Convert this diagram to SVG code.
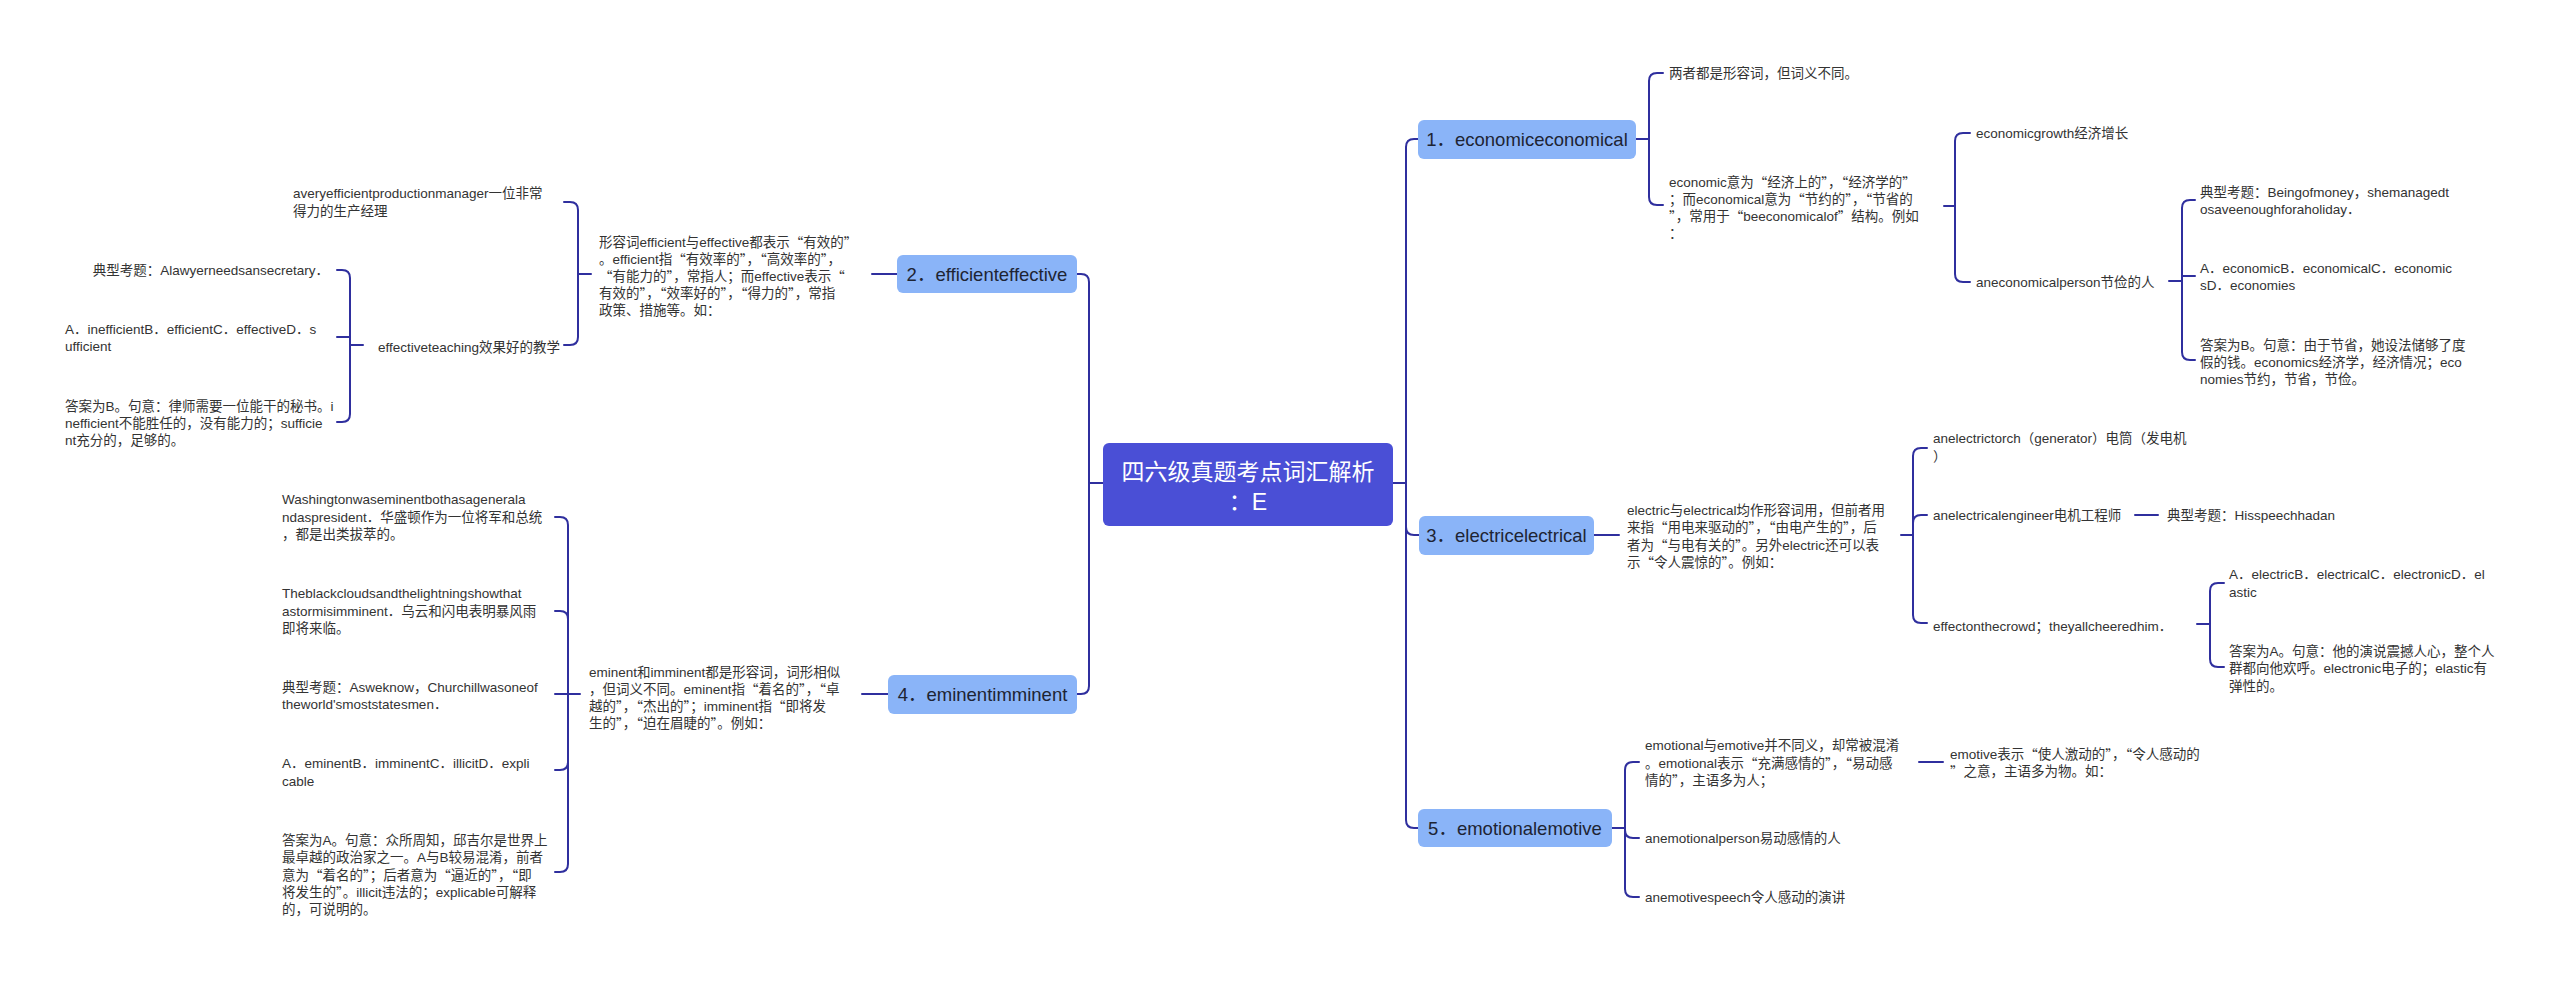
<svg xmlns="http://www.w3.org/2000/svg" width="2560" height="981" viewBox="0 0 2560 981">
<style>
.bg{fill:#ffffff}
.c{fill:none;stroke:#2f2f9e;stroke-width:2;stroke-linecap:round;stroke-linejoin:round}
.root{fill:#4a4fd6}
.rt{font-family:"Liberation Sans","Noto Sans CJK SC",sans-serif;font-size:23px;fill:#ffffff;text-anchor:middle;dominant-baseline:central}
.br{fill:#8ab4f8}
.bt{font-family:"Liberation Sans","Noto Sans CJK SC",sans-serif;font-size:18.5px;fill:#1e2433;text-anchor:middle;dominant-baseline:central}
.t{font-family:"Liberation Sans","Noto Sans CJK SC",sans-serif;font-size:13.5px;fill:#333333;dominant-baseline:central}
.q{font-family:"Noto Sans CJK SC",sans-serif}
.e{text-anchor:end}
</style>
<rect class="bg" x="0" y="0" width="2560" height="981"/>
<g id="connectors">
<path class="c" d="M1103,483 H1089"/>
<path class="c" d="M1089,483 V282 Q1089,274 1081,274 H1077"/>
<path class="c" d="M1089,483 V686 Q1089,694 1081,694 H1077"/>
<path class="c" d="M1393,483 H1406"/>
<path class="c" d="M1406,483 V147 Q1406,139 1414,139 H1418"/>
<path class="c" d="M1406,483 V527 Q1406,535 1414,535 H1419"/>
<path class="c" d="M1406,483 V820 Q1406,828 1414,828 H1418"/>
<path class="c" d="M1636,139 H1649"/>
<path class="c" d="M1649,139 V81 Q1649,73 1657,73 H1663"/>
<path class="c" d="M1649,139 V197 Q1649,205 1657,205 H1663"/>
<path class="c" d="M1944,206 H1955"/>
<path class="c" d="M1955,206 V141 Q1955,133 1963,133 H1970"/>
<path class="c" d="M1955,206 V274 Q1955,282 1963,282 H1970"/>
<path class="c" d="M2169,281 H2182"/>
<path class="c" d="M2182,281 V208 Q2182,200 2190,200 H2195"/>
<path class="c" d="M2182,276 H2195"/>
<path class="c" d="M2182,281 V352 Q2182,360 2190,360 H2195"/>
<path class="c" d="M1594,535 H1619"/>
<path class="c" d="M1901,535 H1913"/>
<path class="c" d="M1913,535 V456 Q1913,448 1921,448 H1927"/>
<path class="c" d="M1913,535 V523 Q1913,515 1921,515 H1927"/>
<path class="c" d="M1913,535 V615 Q1913,623 1921,623 H1927"/>
<path class="c" d="M2135,515 H2158"/>
<path class="c" d="M2197,624 H2210"/>
<path class="c" d="M2210,624 V591 Q2210,583 2218,583 H2224"/>
<path class="c" d="M2210,624 V659 Q2210,667 2218,667 H2224"/>
<path class="c" d="M1612,828 H1625"/>
<path class="c" d="M1625,828 V770 Q1625,762 1633,762 H1639"/>
<path class="c" d="M1625,828 V830 Q1625,838 1633,838 H1639"/>
<path class="c" d="M1625,828 V889 Q1625,897 1633,897 H1639"/>
<path class="c" d="M1919,762 H1943"/>
<path class="c" d="M897,274 H872"/>
<path class="c" d="M591,274 H578"/>
<path class="c" d="M578,274 V210 Q578,202 570,202 H564"/>
<path class="c" d="M578,274 V337 Q578,345 570,345 H564"/>
<path class="c" d="M363,345 H350"/>
<path class="c" d="M350,345 V278 Q350,270 342,270 H337"/>
<path class="c" d="M350,337 H337"/>
<path class="c" d="M350,345 V414 Q350,422 342,422 H337"/>
<path class="c" d="M888,694 H862"/>
<path class="c" d="M580,694 H568"/>
<path class="c" d="M568,694 V525 Q568,517 560,517 H555"/>
<path class="c" d="M568,694 V619 Q568,611 560,611 H555"/>
<path class="c" d="M568,694 H555"/>
<path class="c" d="M568,694 V762 Q568,770 560,770 H555"/>
<path class="c" d="M568,694 V864 Q568,872 560,872 H555"/>
</g>
<g id="root">
<rect class="root" x="1103" y="443" width="290" height="83" rx="6"/>
<text class="rt" x="1248" y="472">四六级真题考点词汇解析</text>
<text class="rt" x="1248" y="502">：E</text>
</g>
<g id="b1">
<rect class="br" x="1418" y="120" width="218" height="39" rx="6"/>
<text class="bt" x="1527" y="139.5">1．economiceconomical</text>
</g>
<g id="b1-1"><text class="t" x="1669" y="73">两者都是形容词，但词义不同。</text></g>
<g id="b1-2"><text class="t">
<tspan x="1669" y="182">economic意为<tspan class="q">“</tspan>经济上的<tspan class="q">”</tspan>，<tspan class="q">“</tspan>经济学的<tspan class="q">”</tspan></tspan>
<tspan x="1669" y="199">；而economical意为<tspan class="q">“</tspan>节约的<tspan class="q">”</tspan>，<tspan class="q">“</tspan>节省的</tspan>
<tspan x="1669" y="216"><tspan class="q">”</tspan>，常用于<tspan class="q">“</tspan>beeconomicalof<tspan class="q">”</tspan>结构。例如</tspan>
<tspan x="1669" y="233">：</tspan>
</text></g>
<g id="b1-2-1"><text class="t" x="1976" y="133">economicgrowth经济增长</text></g>
<g id="b1-2-2"><text class="t" x="1976" y="282">aneconomicalperson节俭的人</text></g>
<g id="b1-2-2-1"><text class="t">
<tspan x="2200" y="192">典型考题：Beingofmoney，shemanagedt</tspan>
<tspan x="2200" y="209">osaveenoughforaholiday．</tspan>
</text></g>
<g id="b1-2-2-2"><text class="t">
<tspan x="2200" y="268">A．economicB．economicalC．economic</tspan>
<tspan x="2200" y="285">sD．economies</tspan>
</text></g>
<g id="b1-2-2-3"><text class="t">
<tspan x="2200" y="345">答案为B。句意：由于节省，她设法储够了度</tspan>
<tspan x="2200" y="362">假的钱。economics经济学，经济情况；eco</tspan>
<tspan x="2200" y="379">nomies节约，节省，节俭。</tspan>
</text></g>
<g id="b2">
<rect class="br" x="897" y="255" width="180" height="38" rx="6"/>
<text class="bt" x="987" y="274">2．efficienteffective</text>
</g>
<g id="b2-1"><text class="t">
<tspan x="599" y="241.5">形容词efficient与effective都表示<tspan class="q">“</tspan>有效的<tspan class="q">”</tspan></tspan>
<tspan x="599" y="258.5">。efficient指<tspan class="q">“</tspan>有效率的<tspan class="q">”</tspan>，<tspan class="q">“</tspan>高效率的<tspan class="q">”</tspan>，</tspan>
<tspan x="599" y="275.5"><tspan class="q">“</tspan>有能力的<tspan class="q">”</tspan>，常指人；而effective表示<tspan class="q">“</tspan></tspan>
<tspan x="599" y="292.5">有效的<tspan class="q">”</tspan>，<tspan class="q">“</tspan>效率好的<tspan class="q">”</tspan>，<tspan class="q">“</tspan>得力的<tspan class="q">”</tspan>，常指</tspan>
<tspan x="599" y="309.5">政策、措施等。如：</tspan>
</text></g>
<g id="b2-1-1"><text class="t">
<tspan x="293" y="193">averyefficientproductionmanager一位非常</tspan>
<tspan x="293" y="211">得力的生产经理</tspan>
</text></g>
<g id="b2-1-2"><text class="t e" x="560" y="347">effectiveteaching效果好的教学</text></g>
<g id="b2-1-2-1"><text class="t e" x="329" y="270">典型考题：Alawyerneedsansecretary．</text></g>
<g id="b2-1-2-2"><text class="t">
<tspan x="65" y="329">A．inefficientB．efficientC．effectiveD．s</tspan>
<tspan x="65" y="346">ufficient</tspan>
</text></g>
<g id="b2-1-2-3"><text class="t">
<tspan x="65" y="406">答案为B。句意：律师需要一位能干的秘书。i</tspan>
<tspan x="65" y="423">nefficient不能胜任的，没有能力的；sufficie</tspan>
<tspan x="65" y="440">nt充分的，足够的。</tspan>
</text></g>
<g id="b3">
<rect class="br" x="1419" y="516" width="175" height="39" rx="6"/>
<text class="bt" x="1506.5" y="535.5">3．electricelectrical</text>
</g>
<g id="b3-1"><text class="t">
<tspan x="1627" y="510">electric与electrical均作形容词用，但前者用</tspan>
<tspan x="1627" y="527">来指<tspan class="q">“</tspan>用电来驱动的<tspan class="q">”</tspan>，<tspan class="q">“</tspan>由电产生的<tspan class="q">”</tspan>，后</tspan>
<tspan x="1627" y="545">者为<tspan class="q">“</tspan>与电有关的<tspan class="q">”</tspan>。另外electric还可以表</tspan>
<tspan x="1627" y="562">示<tspan class="q">“</tspan>令人震惊的<tspan class="q">”</tspan>。例如：</tspan>
</text></g>
<g id="b3-1-1"><text class="t">
<tspan x="1933" y="438">anelectrictorch（generator）电筒（发电机</tspan>
<tspan x="1933" y="456">）</tspan>
</text></g>
<g id="b3-1-2"><text class="t" x="1933" y="515">anelectricalengineer电机工程师</text></g>
<g id="b3-1-2-1"><text class="t" x="2167" y="515">典型考题：Hisspeechhadan</text></g>
<g id="b3-1-3"><text class="t" x="1933" y="626">effectonthecrowd；theyallcheeredhim．</text></g>
<g id="b3-1-3-1"><text class="t">
<tspan x="2229" y="574">A．electricB．electricalC．electronicD．el</tspan>
<tspan x="2229" y="592">astic</tspan>
</text></g>
<g id="b3-1-3-2"><text class="t">
<tspan x="2229" y="651">答案为A。句意：他的演说震撼人心，整个人</tspan>
<tspan x="2229" y="668">群都向他欢呼。electronic电子的；elastic有</tspan>
<tspan x="2229" y="686">弹性的。</tspan>
</text></g>
<g id="b4">
<rect class="br" x="888" y="675" width="189" height="39" rx="6"/>
<text class="bt" x="982.5" y="694.5">4．eminentimminent</text>
</g>
<g id="b4-1"><text class="t">
<tspan x="589" y="672">eminent和imminent都是形容词，词形相似</tspan>
<tspan x="589" y="689">，但词义不同。eminent指<tspan class="q">“</tspan>着名的<tspan class="q">”</tspan>，<tspan class="q">“</tspan>卓</tspan>
<tspan x="589" y="706">越的<tspan class="q">”</tspan>，<tspan class="q">“</tspan>杰出的<tspan class="q">”</tspan>；imminent指<tspan class="q">“</tspan>即将发</tspan>
<tspan x="589" y="723">生的<tspan class="q">”</tspan>，<tspan class="q">“</tspan>迫在眉睫的<tspan class="q">”</tspan>。例如：</tspan>
</text></g>
<g id="b4-1-1"><text class="t">
<tspan x="282" y="499">Washingtonwaseminentbothasagenerala</tspan>
<tspan x="282" y="517">ndaspresident．华盛顿作为一位将军和总统</tspan>
<tspan x="282" y="534">，都是出类拔萃的。</tspan>
</text></g>
<g id="b4-1-2"><text class="t">
<tspan x="282" y="593">Theblackcloudsandthelightningshowthat</tspan>
<tspan x="282" y="611">astormisimminent．乌云和闪电表明暴风雨</tspan>
<tspan x="282" y="628">即将来临。</tspan>
</text></g>
<g id="b4-1-3"><text class="t">
<tspan x="282" y="687">典型考题：Asweknow，Churchillwasoneof</tspan>
<tspan x="282" y="704">theworld'smoststatesmen．</tspan>
</text></g>
<g id="b4-1-4"><text class="t">
<tspan x="282" y="763">A．eminentB．imminentC．illicitD．expli</tspan>
<tspan x="282" y="781">cable</tspan>
</text></g>
<g id="b4-1-5"><text class="t">
<tspan x="282" y="840">答案为A。句意：众所周知，邱吉尔是世界上</tspan>
<tspan x="282" y="857">最卓越的政治家之一。A与B较易混淆，前者</tspan>
<tspan x="282" y="875">意为<tspan class="q">“</tspan>着名的<tspan class="q">”</tspan>；后者意为<tspan class="q">“</tspan>逼近的<tspan class="q">”</tspan>，<tspan class="q">“</tspan>即</tspan>
<tspan x="282" y="892">将发生的<tspan class="q">”</tspan>。illicit违法的；explicable可解释</tspan>
<tspan x="282" y="909">的，可说明的。</tspan>
</text></g>
<g id="b5">
<rect class="br" x="1418" y="809" width="194" height="38" rx="6"/>
<text class="bt" x="1515" y="828.5">5．emotionalemotive</text>
</g>
<g id="b5-1"><text class="t">
<tspan x="1645" y="745">emotional与emotive并不同义，却常被混淆</tspan>
<tspan x="1645" y="763">。emotional表示<tspan class="q">“</tspan>充满感情的<tspan class="q">”</tspan>，<tspan class="q">“</tspan>易动感</tspan>
<tspan x="1645" y="780">情的<tspan class="q">”</tspan>，主语多为人；</tspan>
</text></g>
<g id="b5-1-1"><text class="t">
<tspan x="1950" y="754">emotive表示<tspan class="q">“</tspan>使人激动的<tspan class="q">”</tspan>，<tspan class="q">“</tspan>令人感动的</tspan>
<tspan x="1950" y="771"><tspan class="q">”</tspan>之意，主语多为物。如：</tspan>
</text></g>
<g id="b5-2"><text class="t" x="1645" y="838">anemotionalperson易动感情的人</text></g>
<g id="b5-3"><text class="t" x="1645" y="897">anemotivespeech令人感动的演讲</text></g>
</svg>
